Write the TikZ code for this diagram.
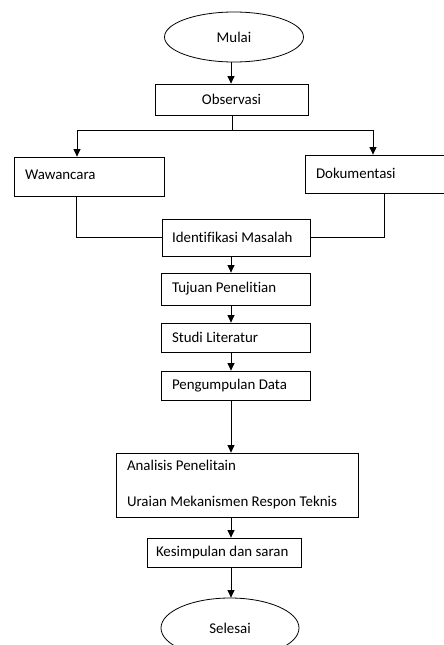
\documentclass[tikz,border=0pt]{standalone}
\usepackage{fontspec}
\setmainfont{Carlito}[Ligatures=NoCommon]
\usetikzlibrary{arrows.meta,shapes.geometric}
\newcommand{\teksalur}{\fontsize{14.9}{18}\selectfont}
\begin{document}
\begin{tikzpicture}[x=1pt,y=-1pt,
  kotak/.style={draw,line width=0.8pt,inner xsep=11pt,inner ysep=0pt,align=flush left,font=\teksalur},
  bulat/.style={draw,ellipse,line width=0.8pt,inner sep=0pt,font=\teksalur},
  garis/.style={line width=0.8pt},
  panah/.style={line width=0.8pt,-{Triangle[length=7.5pt,width=7pt]}}]
 \useasboundingbox (0,0) rectangle (444,645);
 % alur utama
 \node[bulat,minimum width=139pt,minimum height=50pt] (mulai) at (234,37) {Mulai};
 \node[kotak,align=center,text width=131pt,minimum height=31pt] (observasi) at (231.5,99.5) {Observasi};
 \node[kotak,text width=128pt,minimum height=39pt] (wawancara) at (89,176.5) {\raisebox{3.5pt}{Wawancara}};
 \node[kotak,text width=129pt,minimum height=38pt] (dokumentasi) at (380.5,174) {\raisebox{2pt}{Dokumentasi}};
 \node[kotak,text width=128pt,inner xsep=10pt,minimum height=37pt] (identifikasi) at (236,237.5) {Identifikasi Masalah};
 \node[kotak,text width=127pt,minimum height=32pt] (tujuan) at (235.5,289) {Tujuan Penelitian};
 \node[kotak,text width=127pt,minimum height=29pt] (studi) at (235.5,337.5) {Studi Literatur};
 \node[kotak,text width=127pt,minimum height=29pt] (pengumpulan) at (235.5,385.5) {Pengumpulan Data};
 \node[kotak,text width=220pt,minimum height=64pt] (analisis) at (237,485) {Analisis Penelitain\\[18pt]Uraian Mekanismen Respon Teknis};
 \node[kotak,text width=136pt,inner xsep=9pt,minimum height=29pt] (kesimpulan) at (224,552.5) {Kesimpulan dan saran};
 \node[bulat,minimum width=138pt,minimum height=60pt] (selesai) at (230,628) {Selesai};
 % titik bantu
 \coordinate (sumbu) at (231,0);
 \coordinate (cabang) at (232,130);
 \coordinate (kiri) at (77,130);
 \coordinate (kanan) at (373,130);
 \coordinate (wbawah) at (76,0);
 \coordinate (dbawah) at (384,0);
 % penghubung
 \draw[panah] (mulai.south -| sumbu) -- (observasi.north -| sumbu);
 \draw[garis] (observasi.south -| cabang) -- (cabang);
 \draw[panah] (cabang) -- (kiri) -- (wawancara.north -| kiri);
 \draw[panah] (cabang) -- (kanan) -- (dokumentasi.north -| kanan);
 \draw[garis] (wawancara.south -| wbawah) |- (identifikasi.west);
 \draw[garis] (dokumentasi.south -| dbawah) |- (identifikasi.east);
 \draw[panah] (identifikasi.south -| sumbu) -- (tujuan.north -| sumbu);
 \draw[panah] (tujuan.south -| sumbu) -- (studi.north -| sumbu);
 \draw[panah] (studi.south -| sumbu) -- (pengumpulan.north -| sumbu);
 \draw[panah] (pengumpulan.south -| sumbu) -- (analisis.north -| sumbu);
 \draw[panah] (analisis.south -| sumbu) -- (kesimpulan.north -| sumbu);
 \draw[panah] (kesimpulan.south -| sumbu) -- (selesai.north -| sumbu);
\end{tikzpicture}
\end{document}
